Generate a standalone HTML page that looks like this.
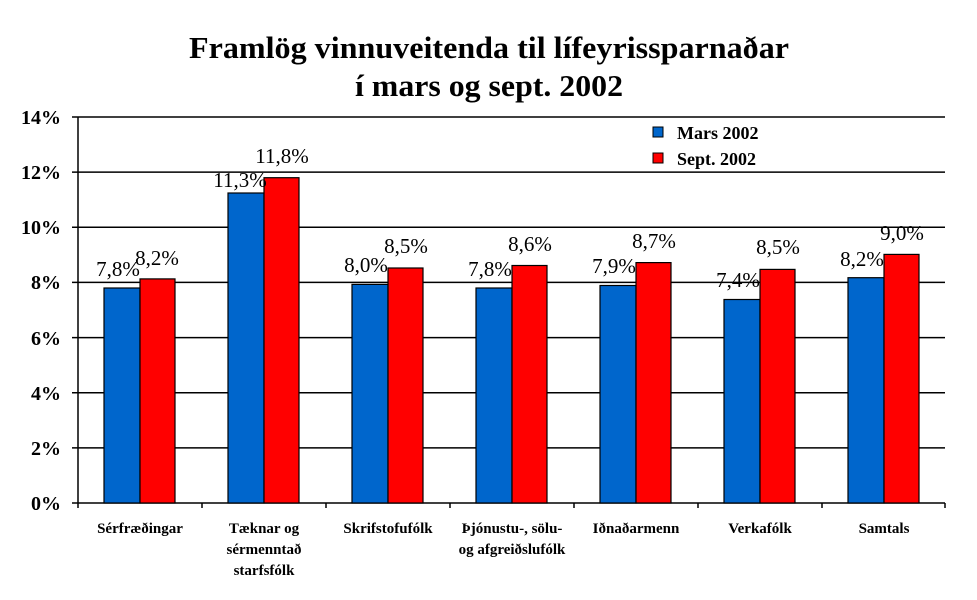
<!DOCTYPE html><html><head><meta charset="utf-8"><style>body{margin:0;background:#fff}svg{display:block}</style></head><body>
<svg width="977" height="600" xmlns="http://www.w3.org/2000/svg" font-family="Liberation Serif, serif">
<text x="489" y="58" text-anchor="middle" font-size="31" font-weight="bold" textLength="600" lengthAdjust="spacingAndGlyphs">Framlög vinnuveitenda til lífeyrissparnaðar</text>
<text x="489" y="96" text-anchor="middle" font-size="31" font-weight="bold" textLength="268" lengthAdjust="spacingAndGlyphs">í mars og sept. 2002</text>
<g stroke="#000" stroke-width="1.5">
<line x1="72" y1="117" x2="945" y2="117"/><line x1="72" y1="172.1" x2="945" y2="172.1"/><line x1="72" y1="227.3" x2="945" y2="227.3"/><line x1="72" y1="282.4" x2="945" y2="282.4"/><line x1="72" y1="337.6" x2="945" y2="337.6"/><line x1="72" y1="392.7" x2="945" y2="392.7"/><line x1="72" y1="447.9" x2="945" y2="447.9"/><line x1="72" y1="503" x2="945" y2="503"/>
<line x1="78" y1="117" x2="78" y2="508"/>
<line x1="202" y1="503" x2="202" y2="508"/><line x1="326" y1="503" x2="326" y2="508"/><line x1="450" y1="503" x2="450" y2="508"/><line x1="574" y1="503" x2="574" y2="508"/><line x1="698" y1="503" x2="698" y2="508"/><line x1="822" y1="503" x2="822" y2="508"/><line x1="945" y1="503" x2="945" y2="508"/>
</g>
<g font-size="20" font-weight="bold" text-anchor="end">
<text x="61" y="124">14%</text><text x="61" y="179">12%</text><text x="61" y="234">10%</text><text x="61" y="289">8%</text><text x="61" y="345">6%</text><text x="61" y="400">4%</text><text x="61" y="455">2%</text><text x="61" y="510">0%</text>
</g>
<g stroke="#000" stroke-width="1.2">
<rect x="104" y="288" width="36" height="215" fill="#0066cc"/><rect x="140" y="278.9" width="35" height="224.1" fill="#ff0000"/>
<rect x="228" y="193" width="36" height="310" fill="#0066cc"/><rect x="264" y="177.7" width="35" height="325.3" fill="#ff0000"/>
<rect x="352" y="284.4" width="36" height="218.6" fill="#0066cc"/><rect x="388" y="268" width="35" height="235" fill="#ff0000"/>
<rect x="476" y="288" width="36" height="215" fill="#0066cc"/><rect x="512" y="265.5" width="35" height="237.5" fill="#ff0000"/>
<rect x="600" y="285.5" width="36" height="217.5" fill="#0066cc"/><rect x="636" y="262.6" width="35" height="240.4" fill="#ff0000"/>
<rect x="724" y="299.5" width="36" height="203.5" fill="#0066cc"/><rect x="760" y="269.4" width="35" height="233.6" fill="#ff0000"/>
<rect x="848" y="277.7" width="36" height="225.3" fill="#0066cc"/><rect x="884" y="254.4" width="35" height="248.6" fill="#ff0000"/>
</g>
<g font-size="21" text-anchor="middle">
<text x="118" y="276">7,8%</text><text x="157" y="265">8,2%</text>
<text x="240" y="187">11,3%</text><text x="282" y="163">11,8%</text>
<text x="366" y="272">8,0%</text><text x="406" y="253">8,5%</text>
<text x="490" y="276">7,8%</text><text x="530" y="251">8,6%</text>
<text x="614" y="273">7,9%</text><text x="654" y="248">8,7%</text>
<text x="738" y="287">7,4%</text><text x="778" y="254">8,5%</text>
<text x="862" y="266">8,2%</text><text x="902" y="240">9,0%</text>
</g>
<rect x="653" y="127" width="10" height="10" fill="#0066cc" stroke="#000"/>
<rect x="653" y="153" width="10" height="10" fill="#ff0000" stroke="#000"/>
<g font-size="18" font-weight="bold">
<text x="677" y="139">Mars 2002</text><text x="677" y="165">Sept. 2002</text>
</g>
<g font-size="15" font-weight="bold" text-anchor="middle">
<text x="140" y="533">Sérfræðingar</text>
<text x="264" y="533">Tæknar og</text><text x="264" y="554">sérmenntað</text><text x="264" y="575">starfsfólk</text>
<text x="388" y="533">Skrifstofufólk</text>
<text x="512" y="533">Þjónustu-, sölu-</text><text x="512" y="554">og afgreiðslufólk</text>
<text x="636" y="533">Iðnaðarmenn</text>
<text x="760" y="533">Verkafólk</text>
<text x="884" y="533">Samtals</text>
</g>
</svg>
</body></html>
